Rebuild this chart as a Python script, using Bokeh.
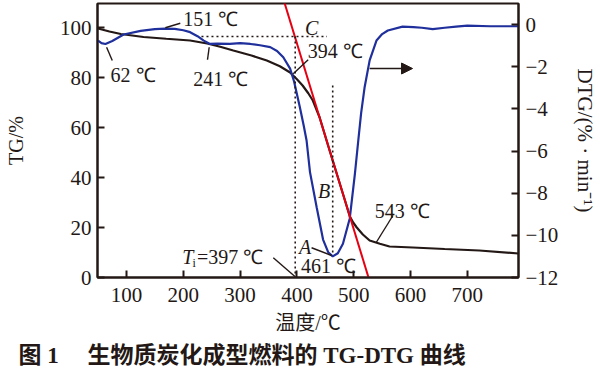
from bokeh.plotting import figure
from bokeh.models import Range1d, LinearAxis, FixedTicker, Label, Arrow, NormalHead, Title
from bokeh.embed import file_html
from bokeh.resources import INLINE

# ---- data ----
tg_temp = [50, 70, 90, 130, 170, 212, 242, 265, 288, 320, 347, 370, 388, 400, 410, 420, 428, 440,
           455, 470, 485, 493, 499, 505, 516, 528, 546, 563, 604, 660, 721, 790]
tg_val = [99.6, 98.4, 97.4, 96.2, 95.5, 94.8, 93.6, 92.3, 90.8, 88.8, 86.8, 84.5, 82.0, 79.3, 76.8,
          73.7, 70.8, 64.0, 52.7, 41.6, 30.5, 24.5, 22.0, 20.1, 17.2, 14.8, 13.5, 12.4, 12.0, 11.4, 10.8, 9.6]

dtg_temp = [50, 56, 63, 75, 95, 125, 150, 168, 185, 200, 212, 225, 236, 247, 260, 282, 300, 318, 335,
            353, 365, 376, 388, 395, 405, 412, 417, 423, 435, 446, 455, 463, 472, 481, 493, 502, 508,
            513, 519, 528, 540, 550, 560, 586, 605, 620, 639, 660, 680, 700, 740, 790]
dtg_val = [-0.76, -0.88, -0.92, -0.78, -0.47, -0.3, -0.22, -0.19, -0.2, -0.27, -0.36, -0.55, -0.76,
           -0.92, -0.9, -0.92, -0.88, -0.92, -0.98, -1.07, -1.25, -1.55, -2.09, -2.7, -3.9, -4.8, -5.5,
           -7.0, -8.7, -10.2, -10.8, -11.0, -10.85, -10.4, -9.2, -7.1, -5.5, -4.2, -3.0, -1.7, -0.76,
           -0.45, -0.28, -0.1, -0.12, -0.15, -0.22, -0.15, -0.1, -0.05, -0.08, -0.08]

tangent_temp = [378, 526]
tangent_tg = [110, 0]

x_ticks = [100, 200, 300, 400, 500, 600, 700]
tg_ticks = [0, 20, 40, 60, 80, 100]
dtg_ticks = [0, -2, -4, -6, -8, -10, -12]
dtg_tick_labels = ["0", "\u22122", "\u22124", "\u22126", "\u22128", "\u221210", "\u221212"]

# guide (dotted) lines: x0, y0, x1, y1 in TG coordinates
guide_x0 = [232, 397, 463]
guide_y0 = [96.4, 96.4, 76.8]
guide_x1 = [453, 397, 463]
guide_y1 = [96.4, 0, 8.8]

# leader lines for annotations (TG coordinates)
lead_x0 = [168.4, 65, 245.6, 393.5, 425.8, 539.8, 358.4]
lead_y0 = [99.9, 92.1, 92.1, 81.5, 11.9, 14.1, 7.9]
lead_x1 = [194.7, 75, 242.6, 419.8, 460.9, 569, 396.5]
lead_y1 = [101.7, 86.8, 87.1, 87.1, 8.8, 24.8, 0.4]

ann_text = ["151 \u2103", "62 \u2103", "241 \u2103", "394 \u2103", "461 \u2103", "543 \u2103", "=397 \u2103"]
ann_x = [200, 72, 217.5, 419, 407, 537, 224]
ann_y = [103.4, 81, 79.4, 90.6, 4.8, 26.8, 8.4]

letter_text = ["C", "B", "A", "T"]
letter_x = [414, 437, 403.5, 198]
letter_y = [100, 34.8, 12.4, 8.4]

arrow_x = [528, 603.5]
arrow_y = [83.6, 83.6]

caption = "图 1\u3000  生物质炭化成型燃料的 TG-DTG 曲线"

INK = "#231815"
SERIF = "Liberation Serif"

p = figure(width=600, height=377, x_range=Range1d(49, 790), y_range=Range1d(0, 109.6),
           output_backend="svg", toolbar_location=None,
           min_border_left=97, min_border_right=81, min_border_top=3, min_border_bottom=100)
p.extra_y_ranges = {"dtg": Range1d(-12, 1.0)}
p.xgrid.visible = False
p.ygrid.visible = False
p.outline_line_color = INK
p.outline_line_width = 2
p.outline_line_alpha = 1
p.background_fill_color = "white"
p.border_fill_color = "white"

def style_axis(ax):
    ax.axis_line_color = INK
    ax.axis_line_width = 2
    ax.major_tick_line_color = INK
    ax.major_tick_line_width = 2
    ax.major_tick_in = 7
    ax.major_tick_out = 0
    ax.minor_tick_line_color = None
    ax.major_label_text_font = SERIF
    ax.major_label_text_font_size = "21px"
    ax.major_label_text_color = INK
    ax.axis_label_text_font = SERIF
    ax.axis_label_text_font_size = "20px"
    ax.axis_label_text_font_style = "normal"
    ax.axis_label_text_color = INK

xa = p.xaxis[0]
style_axis(xa)
xa.ticker = FixedTicker(ticks=x_ticks)
xa.axis_label = "温度/\u2103"
xa.axis_label_text_font = "Liberation Serif, Noto Sans CJK SC"
xa.major_label_standoff = 10
xa.axis_label_standoff = 7

ya = p.yaxis[0]
style_axis(ya)
ya.ticker = FixedTicker(ticks=tg_ticks)
ya.axis_label = "TG/%"
ya.major_label_standoff = 6
ya.axis_label_standoff = 30

ra = LinearAxis(y_range_name="dtg")
style_axis(ra)
ra.ticker = FixedTicker(ticks=dtg_ticks)
ra.major_label_overrides = {t: s for t, s in zip(dtg_ticks, dtg_tick_labels)}
ra.axis_label = "DTG/(% \u00b7 min\u207b\u00b9)"
ra.axis_label_text_font_size = "21px"
ra.major_label_standoff = 7
ra.axis_label_standoff = 12
p.add_layout(ra, "right")

# curves
p.line(tg_temp, tg_val, line_color=INK, line_width=2.2)
p.line(dtg_temp, dtg_val, y_range_name="dtg", line_color="#1f2f9c", line_width=2.2)
p.line(tangent_temp, tangent_tg, line_color="#e60012", line_width=2)

# dotted guides
p.segment(guide_x0, guide_y0, guide_x1, guide_y1, line_color=INK, line_width=1.6, line_dash="2 3")
# leader lines
p.segment(lead_x0, lead_y0, lead_x1, lead_y1, line_color=INK, line_width=1.4)

for t, x, y in zip(ann_text, ann_x, ann_y):
    p.add_layout(Label(x=x, y=y, text=t, text_font=SERIF, text_font_size="20px",
                       text_color=INK, text_baseline="middle", text_align="left"))
for t, x, y in zip(letter_text, letter_x, letter_y):
    p.add_layout(Label(x=x, y=y, text=t, text_font=SERIF, text_font_size="20px",
                       text_font_style="italic", text_color=INK, text_baseline="middle",
                       text_align="left"))
p.add_layout(Label(x=216, y=6.0, text="i", text_font=SERIF, text_font_size="12px",
                   text_color=INK, text_baseline="middle", text_align="left"))

p.add_layout(Arrow(x_start=arrow_x[0], y_start=arrow_y[0], x_end=arrow_x[1], y_end=arrow_y[1],
                   line_color=INK, line_width=1.6,
                   end=NormalHead(size=11, fill_color=INK, line_color=INK, line_width=1)))

p.add_layout(Title(text=caption, text_font="Liberation Serif, Noto Sans CJK SC", text_font_size="23px",
                   text_font_style="bold", text_color=INK, align="left", offset=-79, standoff=8), "below")

open("out.html", "w").write(file_html(p, INLINE))
